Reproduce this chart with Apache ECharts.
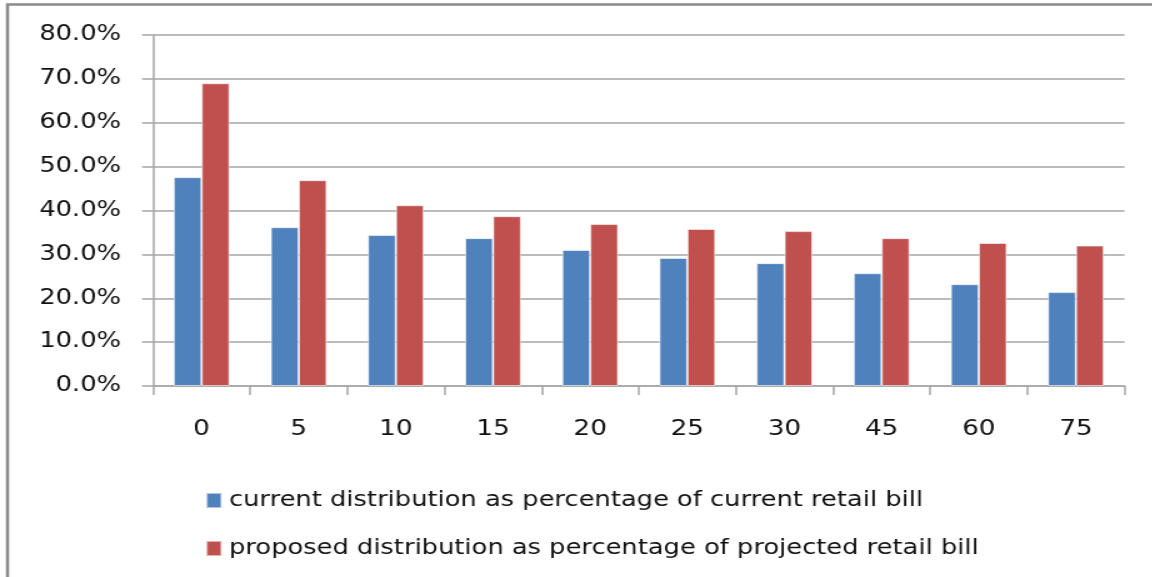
<!DOCTYPE html>
<html>
<head>
<meta charset="utf-8">
<script src="https://cdn.jsdelivr.net/npm/echarts@6/dist/echarts.min.js"></script>
<style>
  html, body { margin: 0; padding: 0; background: #fff; overflow: hidden; }
  /* the chart is laid out narrower and widened by STRETCH, giving the wide lettering */
  #chart { width: 921.6px; height: 577px; transform: scaleX(1.25); transform-origin: 0 0; }
</style>
</head>
<body>
<div id="chart"></div>
<script>
// Minutes bands along the horizontal axis
const categories = ['0', '5', '10', '15', '20', '25', '30', '45', '60', '75'];

// Distribution shares (fractions of the retail bill)
const currentShare = [0.476, 0.362, 0.344, 0.337, 0.310, 0.292, 0.280, 0.257, 0.232, 0.214];
const proposedShare = [0.690, 0.469, 0.412, 0.387, 0.369, 0.358, 0.353, 0.337, 0.326, 0.320];

const seriesNames = [
  'current distribution as percentage of current retail bill',
  'proposed distribution as percentage of projected retail bill'
];

// Value-axis ticks: 0.0% … 80.0%
const yTicks = { min: 0, max: 0.8, step: 0.1 };

// horizontal widening applied to the chart element (see CSS)
const STRETCH = 1.25;
const sx = px => px / STRETCH;

const chart = echarts.init(document.getElementById('chart'), null, { renderer: 'canvas' });

const gridGray = '#a6a6a6';
const font = 'DejaVu Sans';

chart.setOption({
  animation: false,
  backgroundColor: '#ffffff',
  graphic: [{
    type: 'rect',
    silent: true,
    shape: { x: sx(7.5), y: 4.5, width: 1300, height: 700 },
    style: { fill: 'none', stroke: '#8a8a8a', lineWidth: 2.5 }
  }],
  grid: { left: sx(153), right: sx(28), top: 35, bottom: 191, containLabel: false },
  legend: {
    orient: 'vertical',
    left: sx(199),
    top: 485,
    itemWidth: sx(15),
    itemHeight: 15,
    itemGap: 27,
    icon: 'rect',
    textStyle: { fontFamily: font, fontSize: 20.6, color: '#111', padding: [0, 0, 0, 1] },
    data: seriesNames
  },
  xAxis: {
    type: 'category',
    data: categories,
    axisLine: { show: true, lineStyle: { color: gridGray, width: 1.5 } },
    axisTick: { show: true, alignWithLabel: false, length: 9, lineStyle: { color: gridGray, width: 1.5 } },
    axisLabel: { fontFamily: font, fontSize: 21, color: '#111', margin: 33 },
    splitLine: { show: false }
  },
  yAxis: {
    type: 'value',
    min: yTicks.min,
    max: yTicks.max,
    interval: yTicks.step,
    axisLine: { show: true, lineStyle: { color: gridGray, width: 1.5 } },
    axisTick: { show: true, inside: false, length: sx(11), lineStyle: { color: gridGray, width: 1.5 } },
    axisLabel: {
      fontFamily: font,
      fontSize: 20.6,
      color: '#111',
      margin: sx(32),
      formatter: v => (v * 100).toFixed(1) + '%'
    },
    splitLine: { show: true, lineStyle: { color: gridGray, width: 1.5 } }
  },
  series: [
    {
      name: seriesNames[0],
      type: 'bar',
      data: currentShare,
      barWidth: sx(28),
      barGap: '0%',
      itemStyle: { color: '#4f81bd', borderColor: 'rgba(255,255,255,0.55)', borderWidth: 1 }
    },
    {
      name: seriesNames[1],
      type: 'bar',
      data: proposedShare,
      barWidth: sx(28),
      barGap: '0%',
      itemStyle: { color: '#c0504d', borderColor: 'rgba(255,255,255,0.55)', borderWidth: 1 }
    }
  ]
});
</script>
</body>
</html>
